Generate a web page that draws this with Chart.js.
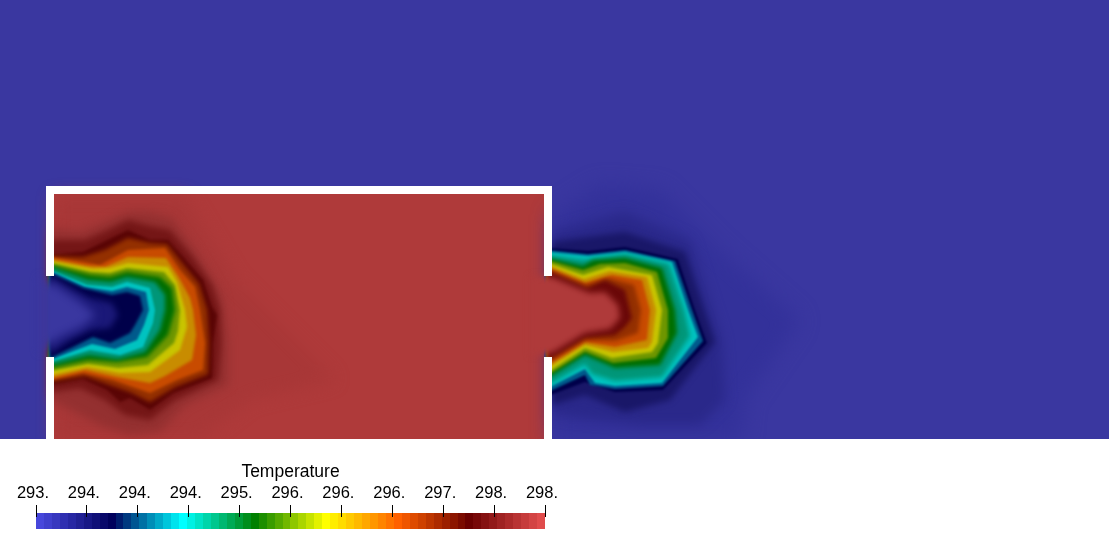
<!DOCTYPE html>
<html>
<head>
<meta charset="utf-8">
<script src="https://cdn.jsdelivr.net/npm/chart.js"></script>
<style>
  html, body { margin: 0; padding: 0; background: #fff; }
  #field { position: absolute; left: 0; top: 0; }
  #bar { position: absolute; left: 0; top: 440px; }
</style>
</head>
<body>
<canvas id="field" width="1109" height="439"></canvas>
<canvas id="bar" width="600" height="100"></canvas>
<script>
// contours, [x, y] in field units (y down)
const domain = [[0,0],[1109,0],[1109,439],[0,439]];
const room = [[54,194],[544,194],[544,439],[54,439]];

const wallTop = [[46,186],[552,186],[552,194],[46,194]];
const wallLeftUp = [[46,186],[54,186],[54,276],[46,276]];
const wallLeftLow = [[46,357],[54,357],[54,439],[46,439]];
const wallRightUp = [[544,186],[552,186],[552,276],[544,276]];
const wallRightLow = [[544,357],[552,357],[552,439],[544,439]];

const roomWedge = [[54,196],[185,196],[235,280],[335,380],[250,400],[200,439],[54,439]];
const leftHalo1 = [[50,228],[80,232],[105,222],[128,212],[150,212],[172,218],[195,250],[222,295],[228,340],[228,385],[185,405],[160,432],[130,435],[100,425],[75,412],[50,400]];
const leftHalo2 = [[50,240],[85,240],[108,230],[128,220],[150,226],[170,230],[192,256],[212,285],[220,310],[221,345],[218,380],[175,400],[150,420],[125,415],[105,400],[80,388],[50,392]];
const leftDark = [[50,255],[83,252],[107,240],[128,230],[150,240],[168,240],[183,257],[203,280],[212,307],[217,315],[213,343],[212,378],[173,393],[150,410],[130,398],[120,402],[107,390],[83,379],[50,385]];
const leftBrown = [[50,256],[83,257],[105,250],[128,238],[150,243],[167,244],[182,263],[199,284],[207,310],[209,343],[208,374],[175,387],[150,402],[130,392],[110,385],[85,376],[50,382]];
const leftOrange = [[50,257],[83,262],[100,265],[128,250],[165,248],[180,270],[195,287],[200,310],[205,343],[203,370],[177,380],[150,393],[113,380],[83,373],[50,380]];
const leftAmber = [[50,259],[88,266],[105,267],[128,257],[166,258],[178,276],[190,298],[193,310],[196,335],[192,360],[165,376],[150,383],[117,377],[85,370],[50,378]];
const leftYellow = [[50,261],[93,269],[110,268],[128,263],[168,267],[177,282],[185,310],[187,327],[180,350],[150,372],[120,373],[87,367],[50,375]];
const leftLime = [[50,263],[91,272],[110,273],[127,268],[164,272],[175,285],[180,310],[178,331],[174,343],[148,365],[118,368],[88,364],[50,371]];
const leftGreen = [[50,265],[90,275],[110,277],[127,272],[160,277],[172,288],[175,310],[168,335],[147,357],[117,362],[88,360],[50,368]];
const leftTeal = [[50,267],[88,280],[111,282],[127,277],[155,282],[165,295],[165,310],[160,330],[145,352],[118,359],[89,355],[50,365]];
const leftCyan = [[50,270],[87,285],[112,287],[127,282],[150,288],[155,310],[153,323],[143,347],[120,355],[90,350],[50,362]];
const leftSteel = [[50,271],[85,287],[112,291],[127,287],[146,292],[149,310],[144,325],[137,340],[115,349],[92,344],[50,360]];
const leftNavy = [[50,273],[83,288],[112,295],[127,292],[140,296],[143,310],[135,325],[130,333],[110,343],[93,337],[73,347],[50,358]];
const leftBlue1 = [[50,276],[70,288],[90,298],[112,303],[118,315],[110,328],[90,330],[70,340],[50,354]];
const leftBlue2 = [[40,277],[60,288],[82,303],[96,315],[82,327],[60,337],[40,352]];

const rightHalo1 = [[552,215],[600,185],[660,190],[720,250],[800,320],[745,400],[742,439],[552,439]];
const rightHalo2 = [[552,232],[625,212],[690,240],[722,340],[725,400],[700,425],[640,425],[552,415]];
const rightHalo3 = [[552,242],[625,232],[685,252],[715,342],[670,400],[625,412],[585,395],[552,405]];
const rightNavy = [[548,248],[588,251],[625,247],[678,259],[695,310],[707,343],[663,390],[615,392],[585,382],[548,396]];
const rightSteel = [[548,250],[588,254],[625,250],[675,261],[692,310],[703,341],[663,386],[615,389],[590,385],[585,375],[548,392]];
const rightCyan = [[548,252],[588,256],[625,252],[672,262],[688,310],[698,337],[662,383],[615,386],[595,383],[585,369],[548,388]];
const rightTeal = [[548,255],[585,260],[625,254],[669,264],[684,310],[690,336],[662,377],[615,381],[592,374],[585,364],[548,385]];
const rightGreen = [[548,258],[583,266],[593,260],[625,258],[662,268],[675,310],[677,333],[660,365],[615,368],[585,355],[548,378]];
const rightLime = [[548,260],[583,270],[600,264],[625,263],[657,272],[668,310],[668,338],[656,358],[613,363],[585,352],[548,375]];
const rightYellow = [[548,263],[583,275],[608,267],[652,275],[662,310],[658,343],[652,352],[612,358],[585,348],[548,372]];
const rightAmber = [[548,265],[584,279],[610,271],[647,277],[656,310],[652,342],[648,348],[613,352],[585,345],[548,368]];
const rightOrange = [[548,268],[585,283],[612,275],[642,280],[650,310],[647,340],[615,347],[585,342],[548,365]];
const rightBrown = [[548,270],[586,285],[608,278],[634,285],[641,310],[638,333],[615,341],[585,340],[548,362]];
const rightDark = [[548,271],[587,288],[605,280],[625,290],[632,318],[625,327],[615,335],[585,338],[548,360]];
const rightRed = [[530,276],[552,277],[590,293],[605,292],[618,305],[620,318],[610,329],[585,333],[552,353],[530,356]];

const layerPoints = [domain, room, roomWedge, leftHalo1, leftHalo2, leftDark, leftBrown, leftOrange, leftAmber, leftYellow, leftLime, leftGreen, leftTeal, leftCyan, leftSteel, leftNavy, leftBlue1, leftBlue2,
  rightHalo1, rightHalo2, rightHalo3, rightNavy, rightSteel, rightCyan, rightTeal, rightGreen, rightLime, rightYellow, rightAmber, rightOrange, rightBrown, rightDark, rightRed,
  wallTop, wallLeftUp, wallLeftLow, wallRightUp, wallRightLow];
const layerColors = ['#3a37a0', '#af3a3a', '#a83737', '#943030', '#741616', '#5a0505', '#943000', '#c84b00', '#c88c00', '#c8c400', '#6e9600', '#006e00', '#009678', '#00c3c0', '#005a8c', '#00004a', '#1a1878', '#3a37a0',
  '#33319a', '#2a288a', '#191768', '#00004a', '#005a8c', '#00c3c0', '#009678', '#006e00', '#6e9600', '#c8c400', '#c88c00', '#c84b00', '#943000', '#6a0808', '#af3a3a',
  '#fff', '#fff', '#fff', '#fff', '#fff'];
const layerBlur = [0, 0, 8, 5, 3, 1.5, 2, 1.5, 1.5, 1.5, 1.5, 2, 2, 1.2, 1.2, 1.5, 3, 5,
  10, 6, 3, 1, 1, 1, 2.5, 2, 1.5, 1.5, 1.5, 1.5, 2, 2, 3,
  0, 0, 0, 0, 0];

// colour bar
const tickLabels = ['293.', '294.', '294.', '294.', '295.', '296.', '296.', '296.', '297.', '298.', '298.'];
const barRange = [293, 298];
const barStops = [[71,71,219],[0,0,92],[0,255,255],[0,128,0],[255,255,0],[255,97,0],[107,0,0],[224,76,76]];
const barSteps = 64;

function xy(pts) { return pts.map(p => ({ x: p[0], y: p[1] })); }

const softEdges = {
  id: 'softEdges',
  beforeDatasetsDraw(chart) { chart.ctx.filter = 'none'; },
  afterDatasetDraw(chart, args) {
    const b = layerBlur[args.index + 1];
    chart.ctx.filter = b ? 'blur(' + b + 'px)' : 'none';
  },
  afterDatasetsDraw(chart) { chart.ctx.filter = 'none'; },
};

new Chart(document.getElementById('field'), {
  type: 'scatter',
  data: {
    datasets: layerPoints.map((pts, i) => ({
      data: xy(pts),
      showLine: true,
      fill: 'shape',
      backgroundColor: layerColors[i],
      borderWidth: 0,
      pointRadius: 0,
      order: layerPoints.length - i,
    })),
  },
  options: {
    responsive: false,
    animation: false,
    layout: { padding: 0 },
    plugins: { legend: { display: false }, tooltip: { enabled: false } },
    events: [],
    scales: {
      x: { type: 'linear', display: false, min: 0, max: 1109 },
      y: { type: 'linear', display: false, min: 0, max: 439, reverse: true },
    },
  },
  plugins: [softEdges],
});

function rampGradient(ctx) {
  const area = ctx.chart.chartArea;
  if (!area) return '#000';
  const g = ctx.chart.ctx.createLinearGradient(area.left, 0, area.right, 0);
  for (let i = 0; i < barSteps; i++) {
    const t = (i / (barSteps - 1)) * (barStops.length - 1);
    const k = Math.min(Math.floor(t), barStops.length - 2);
    const f = t - k;
    const c = barStops[k].map((v, j) => Math.round(v + (barStops[k + 1][j] - v) * f));
    const col = 'rgb(' + c.join(',') + ')';
    g.addColorStop(i / barSteps, col);
    g.addColorStop((i + 1) / barSteps, col);
  }
  return g;
}

new Chart(document.getElementById('bar'), {
  type: 'scatter',
  data: {
    datasets: [{
      data: barRange.map(v => ({ x: v, y: 0.67 })),
      showLine: true,
      borderWidth: 16,
      borderCapStyle: 'butt',
      borderColor: rampGradient,
      pointRadius: 0,
      clip: false,
    }],
  },
  options: {
    responsive: false,
    animation: false,
    layout: { padding: { left: 36, right: 55, top: 22, bottom: 11 } },
    plugins: { legend: { display: false }, tooltip: { enabled: false } },
    events: [],
    scales: {
      x: {
        type: 'linear',
        position: 'top',
        min: barRange[0],
        max: barRange[1],
        afterFit(scale) { scale.height = 55; }, // default caps the axis at half the canvas
        border: { display: false },
        grid: { drawOnChartArea: false, drawTicks: true, tickLength: 12, tickColor: '#000', tickWidth: 1, z: 1 },
        ticks: {
          stepSize: 0.5,
          autoSkip: false,
          maxRotation: 0,
          padding: 2,
          labelOffset: -3,
          color: '#000',
          font: { family: '"Liberation Sans", Arial, sans-serif', size: 16.5 },
          callback: (v, i) => tickLabels[i],
        },
        title: {
          display: true,
          text: 'Temperature',
          color: '#000',
          padding: { top: 0, bottom: 0 },
          font: { family: '"Liberation Sans", Arial, sans-serif', size: 17.5 },
        },
      },
      y: { type: 'linear', display: false, min: 0, max: 1 },
    },
  },
});
</script>
</body>
</html>
